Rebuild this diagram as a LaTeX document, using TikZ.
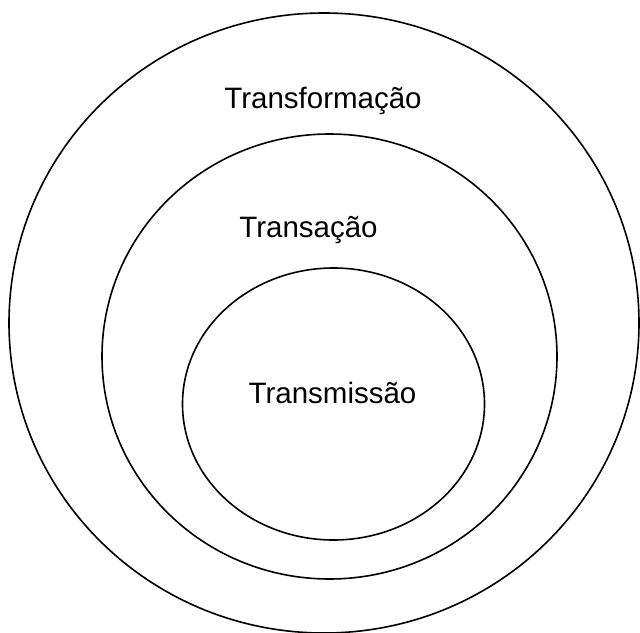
\documentclass[tikz,border=0pt]{standalone}
\usepackage{fontspec}
\setmainfont{Liberation Sans}
\begin{document}
\begin{tikzpicture}[x=1pt,y=-1pt,
  ring/.style={draw=black,line width=1.6pt},
  lbl/.style={anchor=base,inner sep=0pt,font=\fontsize{29.5}{34}\selectfont}]
\useasboundingbox (0,0) rectangle (640,632);
\draw[ring] (324,323) ellipse [x radius=315, y radius=310];
\draw[ring] (329.5,356.5) ellipse [x radius=227.5, y radius=222.5];
\draw[ring] (333.5,404) ellipse [x radius=151, y radius=136];
\node[lbl] (t1) at (323,108) {Transformação};
\node[lbl] (t2) at (308.5,237) {Transação};
\node[lbl] (t3) at (332.5,403) {Transmissão};
\end{tikzpicture}
\end{document}
